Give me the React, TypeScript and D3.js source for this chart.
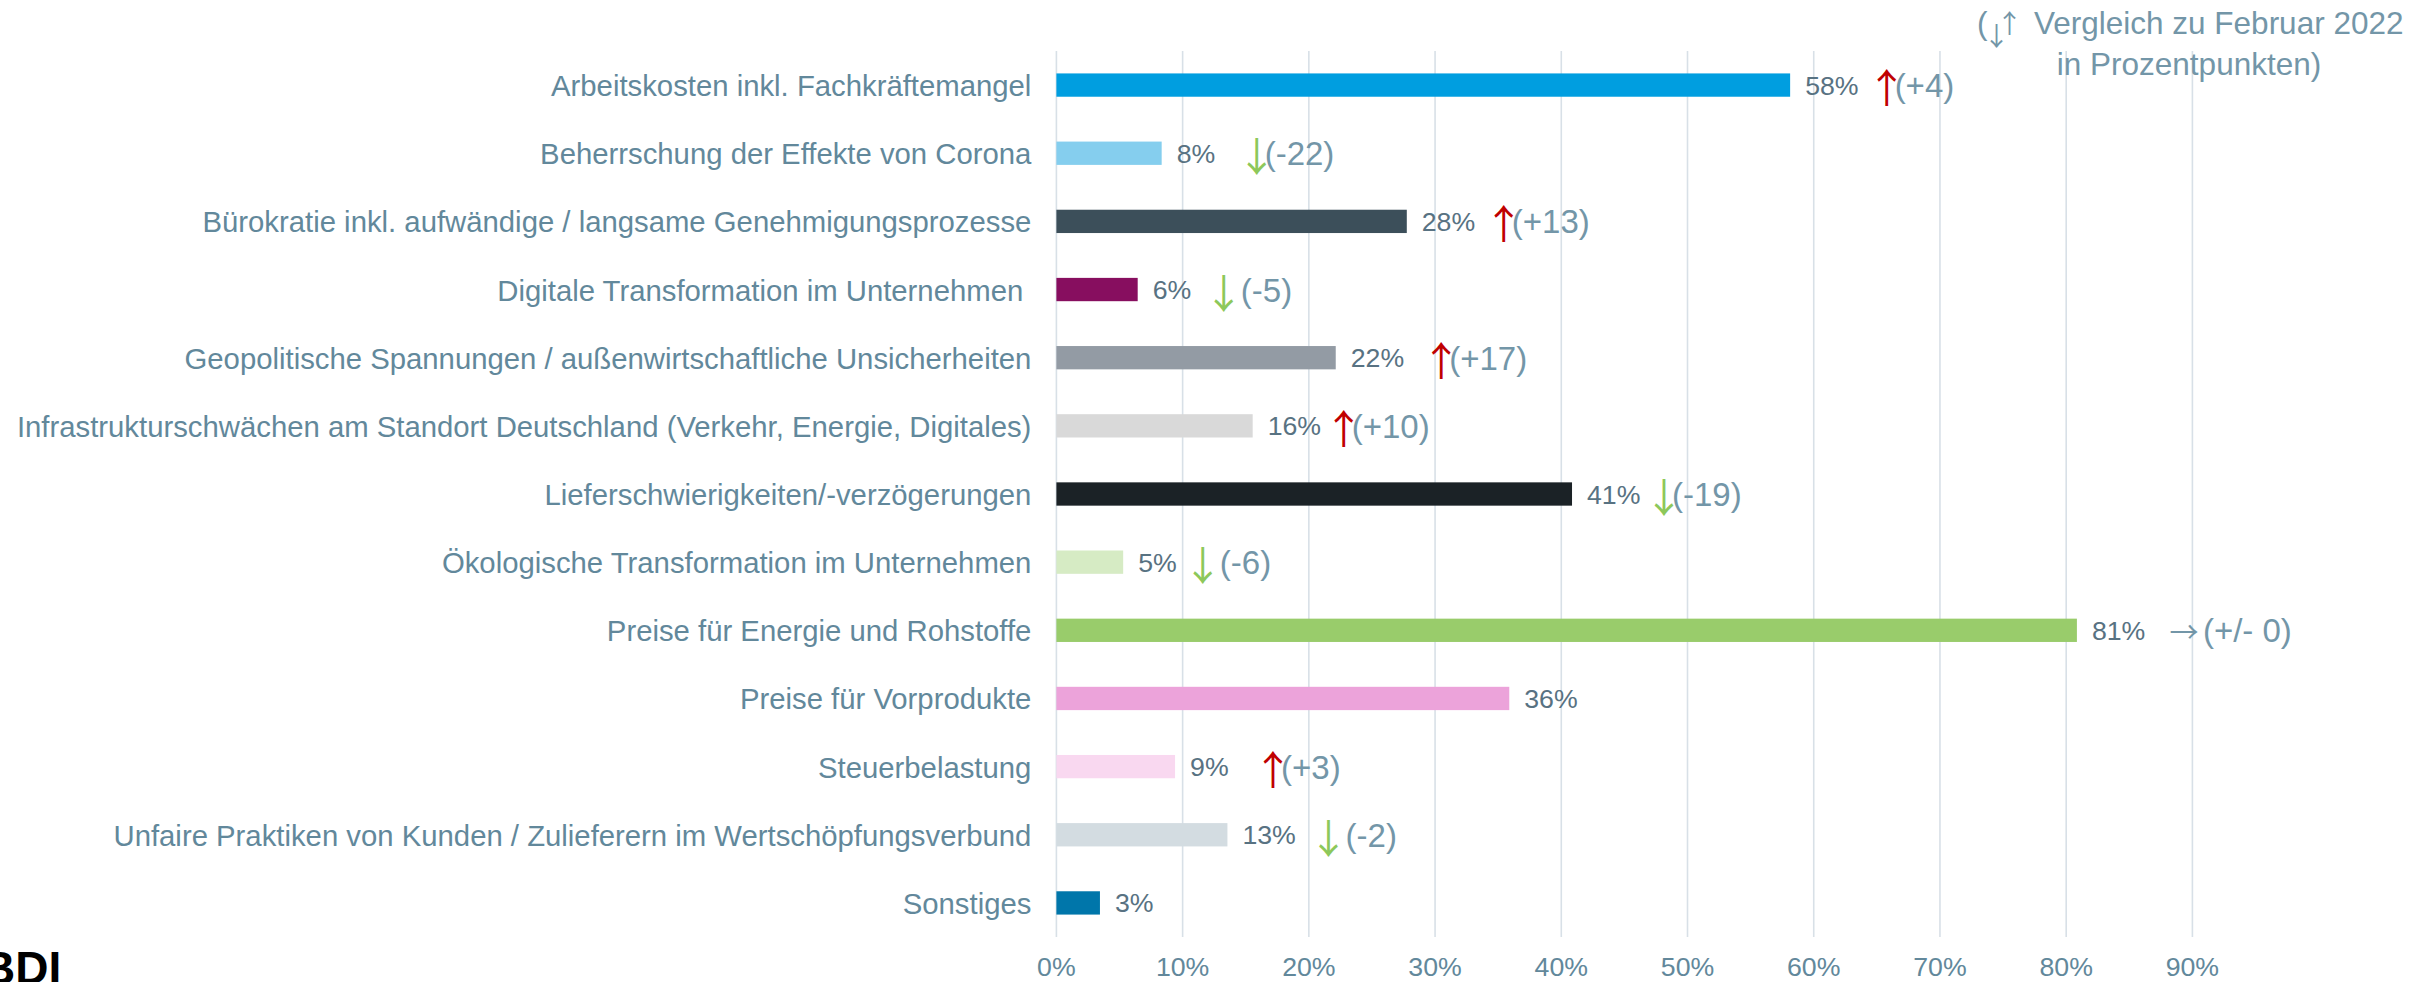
import React from "react";
import * as d3 from "d3";

// ---------- data ----------
const CATEGORIES = [
  "Arbeitskosten inkl. Fachkräftemangel",
  "Beherrschung der Effekte von Corona",
  "Bürokratie inkl. aufwändige / langsame Genehmigungsprozesse",
  "Digitale Transformation im Unternehmen ",
  "Geopolitische Spannungen / außenwirtschaftliche Unsicherheiten",
  "Infrastrukturschwächen am Standort Deutschland (Verkehr, Energie, Digitales)",
  "Lieferschwierigkeiten/-verzögerungen",
  "Ökologische Transformation im Unternehmen",
  "Preise für Energie und Rohstoffe",
  "Preise für Vorprodukte",
  "Steuerbelastung",
  "Unfaire Praktiken von Kunden / Zulieferern im Wertschöpfungsverbund",
  "Sonstiges",
];
const VALUES = [58.13, 8.34, 27.76, 6.44, 22.13, 15.55, 40.85, 5.29, 80.85, 35.88, 9.4, 13.55, 3.45];
const VALUE_LABELS = ["58%", "8%", "28%", "6%", "22%", "16%", "41%", "5%", "81%", "36%", "9%", "13%", "3%"];
const CHANGE_ARROWS = ["↑", "↓", "↑", "↓", "↑", "↑", "↓", "↓", "→", "", "↑", "↓", ""];
const CHANGE_TEXT = ["(+4)", "(-22)", "(+13)", " (-5)", "(+17)", "(+10)", "(-19)", " (-6)", "(+/- 0)", "", "(+3)", " (-2)", ""];
const TICKS = [0, 10, 20, 30, 40, 50, 60, 70, 80, 90];
const LEGEND_ARROWS = ["↓", "↑"];
const LEGEND_LINE1 = "Vergleich zu Februar 2022";
const LEGEND_LINE2 = "in Prozentpunkten)";

// ---------- styles / layout ----------
const BAR_COLORS = [
  "#009EE0", "#85CEEE", "#3C4F5A", "#870E5F", "#939BA4", "#D9D9D9", "#1B2226",
  "#D6EBC4", "#99CC6B", "#ECA3DA", "#F9D8F0", "#D3DCE1", "#0076AA",
];
// horizontal placement of the change arrows (centre), relative to the value label start (px)
const CHANGE_OFFSET = [80.5, 79, 81, 70, 89.5, 75, 76, 63.5, 91, 0, 82, 85, 0];

const W = 2425;
const H = 982;
const FONT = "'Liberation Sans', Arial, Helvetica, sans-serif";
const ARROW_FONT = "'Noto Sans CJK JP', 'Noto Sans CJK SC', 'DejaVu Sans', sans-serif";
const LABEL_COLOR = "#62889B";
const VALUE_COLOR = "#587282";
const CHANGE_COLOR = "#7396A8";
const GRID_COLOR = "#D8E0E7";
const UP_COLOR = "#C00000";
const DOWN_COLOR = "#8DC85A";

export default function App() {
  const x = d3.scaleLinear().domain([0, 90]).range([1056.4, 2192.4]);
  const y = d3
    .scaleBand<string>()
    .domain(CATEGORIES)
    .range([51, 937])
    .paddingInner(0.658)
    .paddingOuter(0.329);
  const bw = y.bandwidth();

  const arrowColor = (a: string) => (a === "↑" ? UP_COLOR : a === "↓" ? DOWN_COLOR : CHANGE_COLOR);

  return (
    <svg
      width={W}
      height={H}
      style={{ position: "absolute", left: 0, top: 0, display: "block", background: "#fff" }}
      fontFamily={FONT}
    >
      {/* gridlines */}
      {TICKS.map((t) => (
        <line key={t} x1={x(t)} x2={x(t)} y1={51} y2={937} stroke={GRID_COLOR} strokeWidth={1.6} />
      ))}
      {/* tick labels */}
      {TICKS.map((t) => (
        <text key={"t" + t} x={x(t)} y={976} textAnchor="middle" fontSize={26.7} fill={LABEL_COLOR}>
          {t + "%"}
        </text>
      ))}
      {/* bars */}
      {CATEGORIES.map((c, i) => {
        const y0 = y(c)!;
        const cy = y0 + bw / 2;
        const lx = x(VALUES[i]) + 15;
        const ax = lx + 1 + CHANGE_OFFSET[i];
        const arrow = CHANGE_ARROWS[i];
        const horiz = arrow === "→";
        const afs = horiz ? 29 : 40; // arrow glyph size (full-width glyph, advance = 1em)
        return (
          <g key={c}>
            <rect x={x(0)} y={y0} width={x(VALUES[i]) - x(0)} height={bw} fill={BAR_COLORS[i]} />
            <text
              x={x(0) - 25}
              y={cy + 11}
              textAnchor="end"
              fontSize={29.3}
              fill={LABEL_COLOR}
              style={{ whiteSpace: "pre" }}
            >
              {c}
            </text>
            <text x={lx} y={cy + 9.5} fontSize={26.7} fill={VALUE_COLOR}>
              {VALUE_LABELS[i]}
            </text>
            {arrow && (
              <text fontSize={33} fill={CHANGE_COLOR} style={{ whiteSpace: "pre" }}>
                <tspan
                  x={ax - afs / 2}
                  y={cy + (horiz ? 13 : 18)}
                  fontFamily={ARROW_FONT}
                  fontSize={afs}
                  fill={arrowColor(arrow)}
                >
                  {arrow}
                </tspan>
                <tspan x={ax + (horiz ? 19 : 8)} y={cy + 12}>
                  {CHANGE_TEXT[i]}
                </tspan>
              </text>
            )}
          </g>
        );
      })}
      {/* legend note */}
      <text fontSize={31.5} fill={CHANGE_COLOR}>
        <tspan x={1977} y={34}>(</tspan>
        <tspan x={1983.5} y={46} fontFamily={ARROW_FONT} fontSize={26}>
          {LEGEND_ARROWS[0]}
        </tspan>
        <tspan x={1996.5} y={33} fontFamily={ARROW_FONT} fontSize={26}>
          {LEGEND_ARROWS[1]}
        </tspan>
        <tspan x={2034} y={34}>{LEGEND_LINE1}</tspan>
      </text>
      <text x={2189} y={75} textAnchor="middle" fontSize={31.5} fill={CHANGE_COLOR}>
        {LEGEND_LINE2}
      </text>
      {/* logo */}
      <text x={-18} y={984} fontSize={46} fontWeight="bold" fill="#000">
        BDI
      </text>
    </svg>
  );
}
